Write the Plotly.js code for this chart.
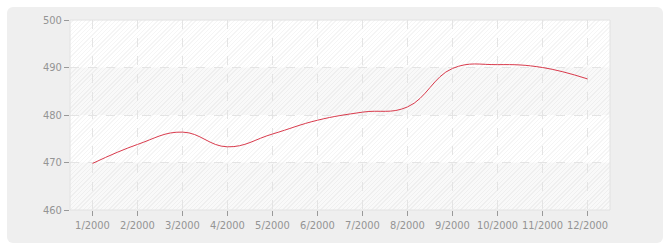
<!DOCTYPE html>
<html><head><meta charset="utf-8">
<script src="https://cdn.plot.ly/plotly-3.0.1.min.js"></script>
<style>
html,body{margin:0;padding:0;background:#fff;}
#wrap{position:relative;width:670px;height:250px;}
#card{position:absolute;left:7px;top:7px;width:656px;height:236px;background:#efefef;border-radius:6px;}
#hatch{position:absolute;left:70px;top:20px;width:540px;height:190px;background-color:#fff;
background-image:repeating-linear-gradient(135deg,#fff 0px,#fff 2px,#f5f5f5 2px,#f5f5f5 3px);}
#chart{position:absolute;left:0;top:0;width:670px;height:250px;}
</style></head>
<body><div id="wrap"><div id="card"></div><div id="hatch"></div><div id="chart"></div></div>
<script>
const months = ['1/2000','2/2000','3/2000','4/2000','5/2000','6/2000','7/2000','8/2000','9/2000','10/2000','11/2000','12/2000'];
const values = [469.8, 473.8, 476.4, 473.3, 476.0, 478.9, 480.6, 481.7, 489.8, 490.6, 490.0, 487.6];
const yTicks = [460, 470, 480, 490, 500];
const bands = [[480, 490], [460, 470]];

const shapes = bands.map(b => ({type:'rect', xref:'paper', yref:'y', x0:0, x1:1, y0:b[0], y1:b[1],
  fillcolor:'rgba(0,0,0,0.022)', line:{width:0}, layer:'below'}));
shapes.push({type:'rect', xref:'paper', yref:'paper', x0:0, x1:1, y0:0, y1:1,
  line:{color:'#e2e2e2', width:1}, fillcolor:'rgba(0,0,0,0)', layer:'above'});

const trace = {x: months, y: values, type:'scatter', mode:'lines',
  line:{shape:'spline', smoothing:1.2, color:'#d93a4c', width:1}, hoverinfo:'none'};

const layout = {
  width:670, height:250,
  margin:{l:70, r:60, t:20, b:40},
  paper_bgcolor:'rgba(0,0,0,0)', plot_bgcolor:'rgba(0,0,0,0)',
  showlegend:false,
  font:{family:'DejaVu Sans Condensed, DejaVu Sans, sans-serif', size:11, color:'#949494'},
  xaxis:{type:'category', range:[-0.5, 11.5], showgrid:true, gridcolor:'#e4e4e4', griddash:'dash', gridwidth:1,
    ticks:'outside', ticklen:5, tickcolor:'#999', showline:false, zeroline:false, fixedrange:true,
    tickfont:{size:11, color:'#949494'}},
  yaxis:{range:[460, 500], tickvals:yTicks, showgrid:true, gridcolor:'#e4e4e4', griddash:'dash', gridwidth:1,
    ticks:'outside', ticklen:5, tickcolor:'#999', showline:false, zeroline:false, fixedrange:true,
    tickfont:{size:11, color:'#949494'}},
  shapes: shapes
};
Plotly.newPlot('chart', [trace], layout, {staticPlot:true, displayModeBar:false});
</script></body></html>
